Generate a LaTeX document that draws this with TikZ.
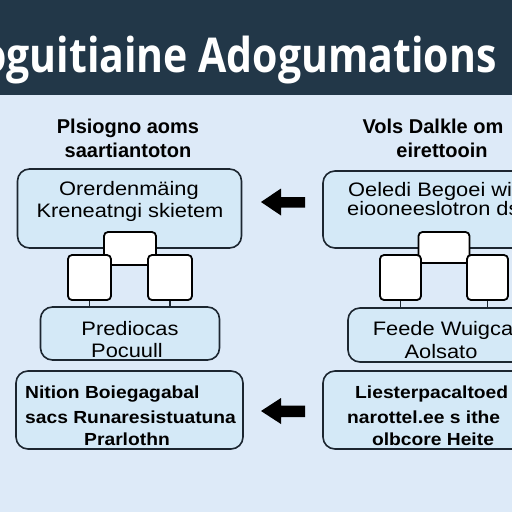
\documentclass[tikz,border=0pt]{standalone}
\usepackage{fontspec}
\setmainfont{Liberation Sans}
\newfontfamily\titlefont{Open Sans}
\newfontfamily\widefont[FakeStretch=1.12]{Liberation Sans}
\newfontfamily\widebold[FakeStretch=1.1]{Liberation Sans Bold}
\definecolor{titlebg}{RGB}{34,55,72}
\definecolor{pagebg}{RGB}{221,234,248}
\definecolor{boxfill}{RGB}{212,233,247}
\definecolor{boxline}{RGB}{28,38,48}
\tikzset{
  bigbox/.style={draw=boxline, fill=boxfill, rounded corners=12pt, line width=1.6pt, inner sep=0pt},
  smallbox/.style={draw=black, fill=white, rounded corners=4pt, line width=1.8pt, inner sep=0pt},
  stub/.style={draw=boxline, line width=1.2pt},
  heading/.style={font=\bfseries\fontsize{20}{24}\selectfont, text=black, inner sep=0pt},
  boxtext/.style={font=\widefont\fontsize{19.5}{22}\selectfont, text=black, inner sep=0pt},
  boxtextb/.style={font=\widebold\fontsize{17.5}{21}\selectfont, text=black, inner sep=0pt},
  arrowfill/.style={fill=black}
}
\begin{document}
\begin{tikzpicture}[x=1pt,y=-1pt]
\useasboundingbox (0,0) rectangle (512,512);
\clip (0,0) rectangle (512,512);
\fill[pagebg] (0,0) rectangle (512,512);
\fill[titlebg] (0,0) rectangle (512,95);
\node[anchor=base east, inner sep=0pt, text=white] (title) at (497,72)
  {\scalebox{0.855}[1]{\titlefont\bfseries\fontsize{48}{56}\selectfont oguitiaine Adogumations}};

% left column
\node[heading, anchor=base] (lh1) at (128,133) {Plsiogno aoms};
\node[heading, anchor=base] (lh2) at (128,157) {saartiantoton};

\node[bigbox, minimum width=224pt, minimum height=79pt] (lb1) at (129.5,208.5) {};
\node[boxtext, anchor=base] (lb1a) at (129,195) {Orerdenmäing};
\node[boxtext, anchor=base] (lb1b) at (130,217) {Kreneatngi skietem};

\node[bigbox, minimum width=179pt, minimum height=53pt] (lb2) at (130,333.5) {};
\node[boxtext, anchor=base] (lb2a) at (130,335) {Prediocas};
\node[boxtext, anchor=base] (lb2b) at (127,357) {Pocuull};

\node[smallbox, minimum width=52pt, minimum height=33pt] (lst) at (130,248.5) {};
\node[smallbox, minimum width=43pt, minimum height=45pt] (lsl) at (89.5,277.5) {};
\node[smallbox, minimum width=44pt, minimum height=45pt] (lsr) at (170,277.5) {};
\draw[stub] (lsl.south) -- (lsl.south |- lb2.north);
\draw[stub] (lsr.south) -- (lsr.south |- lb2.north);

\node[bigbox, minimum width=227pt, minimum height=78pt] (lb3) at (129.5,410) {};
\node[boxtextb, anchor=base west] (lb3a) at (25,398) {Nition Boiegagabal};
\node[boxtextb, anchor=base west] (lb3b) at (25,423) {sacs Runaresistuatuna};
\node[boxtextb, anchor=base] (lb3c) at (127,445) {Prarlothn};

% arrows
\fill[arrowfill] (261,202) -- (281,188.5) -- (281,197) -- (305,197) -- (305,207.5) -- (281,207.5) -- (281,215.5) -- cycle;
\fill[arrowfill] (261,411) -- (281,398) -- (281,405.5) -- (305,405.5) -- (305,417) -- (281,417) -- (281,424) -- cycle;

% right column
\node[heading, anchor=base] (rh1) at (433,133) {Vols Dalkle om};
\node[heading, anchor=base] (rh2) at (442,157) {eirettooin};

\node[bigbox, minimum width=240pt, minimum height=77pt] (rb1) at (443,209.5) {};
\node[boxtext, anchor=base west] (rb1a) at (348,196) {Oeledi Begoei wi};
\node[boxtext, anchor=base west] (rb1b) at (347,215) {eiooneeslotron ds};

\node[bigbox, minimum width=215pt, minimum height=54pt] (rb2) at (455.5,335) {};
\node[boxtext, anchor=base] (rb2a) at (443,335) {Feede Wuigca};
\node[boxtext, anchor=base] (rb2b) at (441,358) {Aolsato};

\node[smallbox, minimum width=51pt, minimum height=31pt] (rst) at (444,247.5) {};
\node[smallbox, minimum width=41pt, minimum height=45pt] (rsl) at (400.5,277.5) {};
\node[smallbox, minimum width=41pt, minimum height=45pt] (rsr) at (487.5,277.5) {};
\draw[stub] (rsl.south) -- (rsl.south |- rb2.north);
\draw[stub] (rsr.south) -- (rsr.south |- rb2.north);

\node[bigbox, minimum width=240pt, minimum height=78pt] (rb3) at (443,410) {};
\node[boxtextb, anchor=base west] (rb3a) at (355,398) {Liesterpacaltoed};
\node[boxtextb, anchor=base west] (rb3b) at (347,423) {narottel.ee s ithe};
\node[boxtextb, anchor=base] (rb3c) at (433,445) {olbcore Heite};
\end{tikzpicture}
\end{document}
